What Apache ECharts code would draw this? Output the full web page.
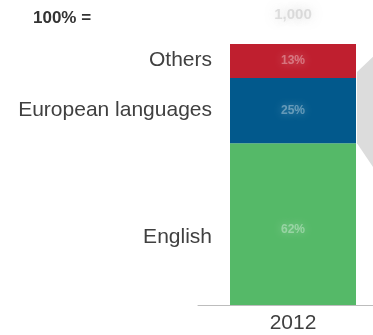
<!DOCTYPE html>
<html>
<head>
<meta charset="utf-8">
<script src="https://cdn.jsdelivr.net/npm/echarts@6/dist/echarts.min.js"></script>
<style>html,body{margin:0;padding:0;background:#fff}#c{width:373px;height:335px}</style>
</head>
<body>
<div id="c"></div>
<script>
var categories = ['2012'];
var seriesNames = ['English', 'European languages', 'Others'];
var english = [62];
var european = [25];
var others = [13];
var valueLabels = ['62%', '25%', '13%'];
var totalLabel = ['1,000'];
var headerLabel = '100% =';

var FONT = 'Liberation Sans, Arial, sans-serif';
var colors = ['#55B968', '#02598C', '#BF1F2F'];
var dataSets = [english, european, others];

var chart = echarts.init(document.getElementById('c'), null, {renderer: 'canvas'});

var series = dataSets.map(function (d, i) {
  return {
    name: seriesNames[i],
    type: 'bar',
    stack: 'total',
    barWidth: 126,
    data: d,
    itemStyle: {color: colors[i]},
    label: {
      show: true,
      position: 'inside',
      offset: i === 0 ? [0, 6] : [0, 0],
      formatter: function () { return valueLabels[i]; },
      color: 'rgba(255,255,255,0.35)',
      fontFamily: FONT,
      fontSize: 12,
      fontWeight: 'bold',
      textShadowColor: 'rgba(255,255,255,1)',
      textShadowBlur: 10
    },
    emphasis: {disabled: true},
    silent: true
  };
});
series.push({
  name: 'total',
  type: 'bar',
  stack: 'total',
  barWidth: 126,
  data: [0],
  itemStyle: {color: 'transparent'},
  label: {
    show: true,
    position: 'top',
    distance: 22,
    formatter: function () { return totalLabel[0]; },
    color: 'rgba(170,170,170,0.35)',
    fontFamily: FONT,
    fontSize: 15,
    fontWeight: 'bold',
    textShadowColor: 'rgba(140,140,140,1)',
    textShadowBlur: 12
  },
  silent: true
});

chart.setOption({
  animation: false,
  grid: {left: 198, width: 190, top: 44, bottom: 30, containLabel: false, outerBoundsMode: 'none'},
  xAxis: {
    type: 'category',
    data: categories,
    axisLine: {show: true, lineStyle: {color: '#BDBDBD', width: 1}},
    axisTick: {show: false},
    axisLabel: {color: '#404040', fontFamily: FONT, fontSize: 21, margin: 8}
  },
  yAxis: {type: 'value', min: 0, max: 100, show: false},
  series: series
});

function addDecor() {
  var g = [];
  var cum = 0;
  var tops = [], bottoms = [];
  for (var i = 0; i < dataSets.length; i++) {
    var b = chart.convertToPixel({gridIndex: 0}, [0, cum]);
    cum += dataSets[i][0];
    var t = chart.convertToPixel({gridIndex: 0}, [0, cum]);
    bottoms.push(b[1]); tops.push(t[1]);
  }
  var center = chart.convertToPixel({gridIndex: 0}, [0, 0])[0];
  var left = center - 63, right = center + 63;
  var offsets = [13, 0, -1];
  for (var j = 0; j < seriesNames.length; j++) {
    g.push({
      type: 'text',
      x: left - 18,
      y: (tops[j] + bottoms[j]) / 2 + offsets[j],
      style: {
        text: seriesNames[j], fill: '#404040', font: '21px ' + FONT,
        align: 'right', verticalAlign: 'middle'
      }
    });
  }
  g.push({
    type: 'text', x: 33, y: 18,
    style: {text: headerLabel, fill: '#333', font: 'bold 17px ' + FONT, align: 'left', verticalAlign: 'middle'}
  });
  var bt = tops[1], bb = bottoms[1];
  g.push({
    type: 'polygon',
    z: -1,
    shape: {points: [[right + 1, bt - 6], [right + 40, bt - 43], [right + 40, bb + 58], [right + 1, bb]]},
    style: {fill: '#DCDCDC'}
  });
  chart.setOption({graphic: g});
}
addDecor();
</script>
</body>
</html>
